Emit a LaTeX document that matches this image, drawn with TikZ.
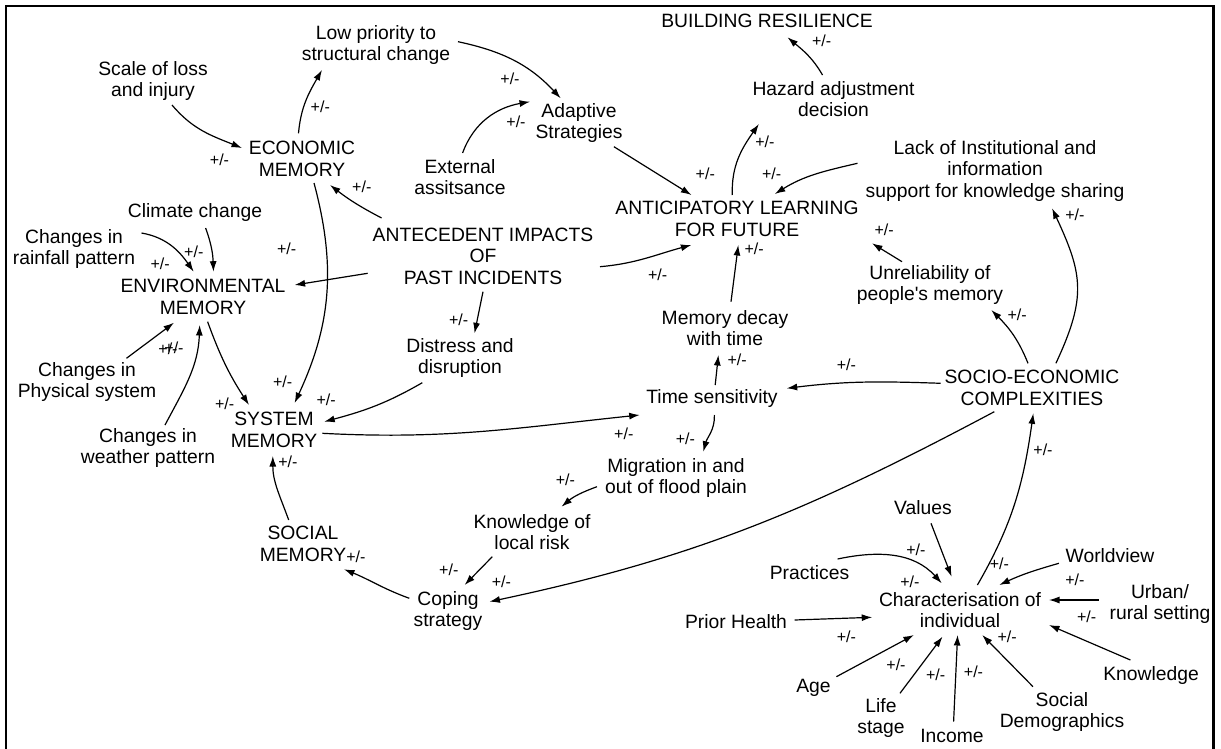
\documentclass[tikz,border=0pt]{standalone}
\usepackage{fontspec}
\setmainfont{Liberation Sans}
\usetikzlibrary{arrows.meta,calc}
\begin{document}
\begin{tikzpicture}[x=1pt,y=1pt,
  txt/.style={align=center,font=\fontsize{19.3}{21.5}\selectfont,inner sep=0pt},
  pm/.style={font=\fontsize{16}{18}\selectfont,inner sep=0pt},
  arr/.style={-{Latex[length=10.5pt,width=7pt]},line width=1.2pt}]
\useasboundingbox (0,0) rectangle (1221,-749);
\draw[line width=2.2pt] (6,-749) -- (6,-6) -- (1213.5,-6) -- (1213.5,-749);
% nodes
\node[txt] (lowp) at (376,-45) {Low priority to\\structural change};
\node[txt] (scale) at (153,-81) {Scale of loss\\and injury};
\node[txt] (build) at (767,-21) {BUILDING RESILIENCE};
\node[txt] (hazard) at (833.5,-99) {Hazard adjustment\\decision};
\node[txt] (adapt) at (579,-123) {Adaptive\\Strategies};
\node[txt] (econ) at (302,-159) {ECONOMIC\\MEMORY};
\node[txt] (ext) at (460,-177) {External\\assitsance};
\node[txt] (lack) at (995,-171) {Lack of Institutional and\\information\\support for knowledge sharing};
\node[txt] (antic) at (737,-219) {ANTICIPATORY LEARNING\\FOR FUTURE};
\node[txt] (climate) at (195,-213) {Climate change};
\node[txt] (rain) at (74,-249) {Changes in\\rainfall pattern};
\node[txt] (ante) at (483,-256) {ANTECEDENT IMPACTS\\OF\\PAST INCIDENTS};
\node[txt] (env) at (203,-297) {ENVIRONMENTAL\\MEMORY};
\node[txt] (unrel) at (930,-285) {Unreliability of\\people\textquotesingle s memory};
\node[txt] (decay) at (725,-328) {Memory decay\\with time};
\node[txt] (distress) at (460,-358) {Distress and\\disruption};
\node[txt] (phys) at (87,-382) {Changes in\\Physical system};
\node[txt] (socio) at (1032,-388) {SOCIO-ECONOMIC\\COMPLEXITIES};
\node[txt] (time) at (712,-399) {Time sensitivity};
\node[txt] (sys) at (274,-430) {SYSTEM\\MEMORY};
\node[txt] (weather) at (148,-448) {Changes in\\weather pattern};
\node[txt] (migr) at (676,-478) {Migration in and\\out of flood plain};
\node[txt] (know) at (532,-532) {Knowledge of\\local risk};
\node[txt] (social) at (303,-544) {SOCIAL\\MEMORY};
\node[txt] (values) at (923,-508) {Values};
\node[txt] (world) at (1110,-556) {Worldview};
\node[txt] (pract) at (809.5,-573) {Practices};
\node[txt] (char) at (960,-610) {Characterisation of\\individual};
\node[txt] (urban) at (1160,-604) {Urban/\\rural setting};
\node[txt] (coping) at (448,-611) {Coping\\strategy};
\node[txt] (prior) at (736,-622) {Prior Health};
\node[txt] (knowl) at (1151,-676) {Knowledge};
\node[txt] (age) at (813.5,-688) {Age};
\node[txt] (life) at (881,-718) {Life\\stage};
\node[txt] (socdem) at (1062,-712) {Social\\Demographics};
\node[txt] (income) at (952,-736) {Income};
% connectors
\draw[arr] ($(econ)+(-3.5,25.7)$) to[out=85,in=-120] ($(lowp)+(-54,-25)$);
\draw[arr] ($(lowp)+(82,3.3)$) to[out=-12,in=133] ($(adapt)+(-18.3,24.7)$);
\draw[arr] ($(ext)+(2.6,24)$) to[out=70,in=190] ($(adapt)+(-49,21.3)$);
\draw[arr] ($(scale)+(19,-24)$) to[out=-50,in=158] ($(econ)+(-60,11)$);
\draw[arr] ($(ante)+(-101.4,38)$) to[bend left=5] ($(econ)+(28,-26)$);
\draw[arr] ($(econ)+(12,-24)$) to[out=-75,in=65] ($(sys)+(20.6,27)$);
\draw[arr] ($(climate)+(10.6,-15)$) to[out=-70,in=92] ($(env)+(10.5,25.3)$);
\draw[arr] ($(rain)+(67.5,16)$) to[out=-10,in=125] ($(env)+(-9.3,25.3)$);
\draw[arr] ($(ante)+(-115.3,-17.3)$) -- ($(env)+(91.6,12)$);
\draw[arr] ($(phys)+(39.5,23.7)$) -- ($(env)+(-29,-25.7)$);
\draw[arr] ($(weather)+(17,23)$) to[out=62,in=-92] ($(env)+(-3.3,-28)$);
\draw[arr] ($(env)+(4.6,-24.7)$) to[out=-70,in=123] ($(sys)+(-25,25)$);
\draw[arr] ($(distress)+(-37.7,-24.7)$) to[out=-150,in=15] ($(sys)+(50.2,8.3)$);
\draw[arr] ($(ante)+(0,-35.7)$) -- ($(distress)+(14.5,24.7)$);
\draw[arr] ($(sys)+(48.3,-3.3)$) to[out=-3,in=186] ($(time)+(-72.3,-16)$);
\draw[arr] ($(ante)+(117,-10.7)$) to[out=5,in=195] ($(antic)+(-45.6,-26)$);
\draw[arr] ($(adapt)+(34.9,-23.7)$) -- ($(antic)+(-45.6,24)$);
\draw[arr] ($(antic)+(-4.7,24)$) to[out=92,in=-125] ($(hazard)+(-74.6,-25)$);
\draw[arr] ($(hazard)+(-11,24)$) to[out=120,in=-40] ($(build)+(20.5,-16.3)$);
\draw[arr] ($(lack)+(-137.5,7.7)$) to[out=193,in=32] ($(antic)+(37.8,25)$);
\draw[arr] ($(unrel)+(-28,23.3)$) -- ($(antic)+(135,-24.3)$);
\draw[arr] ($(decay)+(6,26.3)$) -- ($(antic)+(1.3,-26)$);
\draw[arr] ($(time)+(3.2,14)$) -- ($(decay)+(-6.6,-27)$);
\draw[arr] ($(socio)+(-4,24.7)$) to[out=112,in=-45] ($(unrel)+(61.3,-25)$);
\draw[arr] ($(socio)+(23.9,24.7)$) to[out=65,in=-65,looseness=1.2] ($(lack)+(57.1,-37.3)$);
\draw[arr] ($(socio)+(-91.3,4.7)$) to[out=178,in=7] ($(time)+(74.7,10.7)$);
\draw[arr] ($(time)+(2.4,-16)$) to[out=-88,in=75] ($(migr)+(27.3,26.3)$);
\draw[arr] ($(migr)+(-79,-8.7)$) to[out=200,in=40] ($(know)+(29.5,25.3)$);
\draw[arr] ($(know)+(-39.7,-24.7)$) -- ($(coping)+(16.6,26)$);
\draw[arr] ($(socio)+(-37.7,-23.7)$) to[out=208,in=12] ($(coping)+(41.5,9.3)$);
\draw[arr] ($(coping)+(-38.7,12.7)$) to[out=160,in=-22] ($(social)+(41,-25.3)$);
\draw[arr] ($(social)+(-14.3,24)$) to[out=110,in=-90] ($(sys)+(-1.2,-26)$);
\draw[arr] ($(char)+(17.4,25)$) to[out=60,in=-98] ($(socio)+(1.3,-25.3)$);
\draw[arr] ($(values)+(8,-15.3)$) -- ($(char)+(-8.4,33.3)$);
\draw[arr] ($(pract)+(28.1,14)$) to[out=12,in=132] ($(char)+(-18.3,26.7)$);
\draw[arr] ($(world)+(-51.1,-7.3)$) to[out=196,in=25] ($(char)+(39.3,25)$);
\draw[arr] ($(urban)+(-61.4,4)$) -- ($(char)+(89,10)$);
\draw[arr] ($(prior)+(58.7,2)$) -- ($(char)+(-87.8,-7.3)$);
\draw[arr] ($(knowl)+(-20.6,16)$) -- ($(char)+(89,-15)$);
\draw[arr] ($(age)+(22.9,11.3)$) -- ($(char)+(-46.1,-25)$);
\draw[arr] ($(life)+(19,24.7)$) -- ($(char)+(-17.5,-26.7)$);
\draw[arr] ($(income)+(1.6,14.3)$) -- ($(char)+(-2.4,-25)$);
\draw[arr] ($(socdem)+(-29,25.3)$) -- ($(char)+(22.2,-25)$);
% polarity labels
\foreach \n/\x/\y in {p1/320.3/106.7, p2/510/78.3, p3/516/121.7, p4/219.5/160, p5/361.8/186.7,
  p6/282.7/381.7, p7/193.8/251.7, p8/160.1/263.3, p9/286.7/248.3, p10/168/348.3, p11/174/347.5,
  p12/224.6/403.3, p13/326.2/399.3, p14/458.7/320, p15/623.8/433.3, p16/657.6/275,
  p17/705.3/174, p18/764.9/141.7, p19/821.7/40.7, p20/771.6/173.3, p21/884.1/229.3,
  p22/754.2/248.3, p23/737.1/360, p24/1017.2/315, p25/1074.8/215, p26/846.3/365,
  p27/685.4/438.3, p28/565.4/480, p29/448.8/570, p30/501.4/581.7, p31/355.9/556.7,
  p32/287.9/461.7, p33/1043/450, p34/915.9/550, p35/909.9/581.7, p36/999.3/563.3,
  p37/1074.8/580, p38/1086.7/616.7, p39/846.3/636.7, p40/896/665, p41/935.7/675,
  p42/973.5/671.7, p43/1007.2/636.7}
  {\node[pm] (\n) at (\x,-\y) {+/-};}
\end{tikzpicture}
\end{document}
